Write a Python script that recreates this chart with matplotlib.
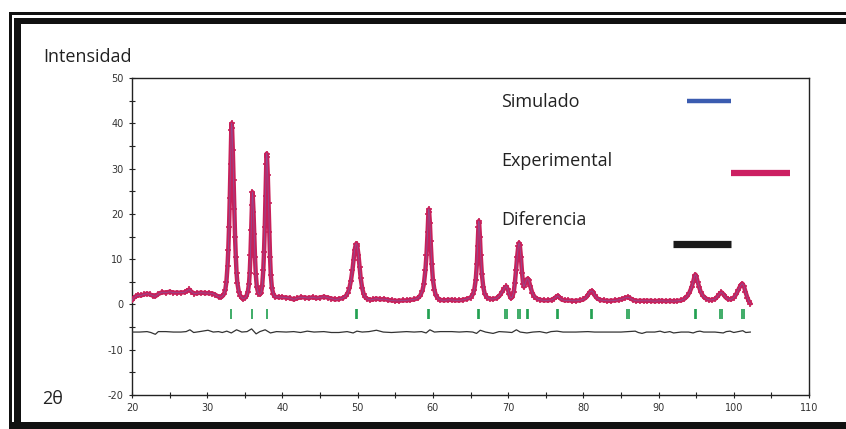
import matplotlib
matplotlib.use('Agg')
import matplotlib.pyplot as plt
from matplotlib.lines import Line2D
from matplotlib.patches import Rectangle

plt.rcParams['axes.unicode_minus'] = False

two_theta = [
    20.0, 20.2, 20.5, 20.8, 21.2, 21.6, 22.0, 22.4, 22.8, 23.1, 23.5, 24.0, 24.5, 25.0,
    25.5, 26.0, 26.5, 27.0, 27.3, 27.6, 27.9, 28.3, 28.7, 29.2, 29.7, 30.2, 30.7, 31.1,
    31.5, 31.8, 32.0, 32.2, 32.4, 32.55, 32.7, 32.8, 32.9, 33.0, 33.1, 33.2, 33.25, 33.3,
    33.4, 33.5, 33.6, 33.7, 33.8, 33.9, 34.0, 34.2, 34.4, 34.6, 34.8, 35.0, 35.2, 35.4,
    35.55, 35.65, 35.75, 35.85, 35.95, 36.0, 36.05, 36.15, 36.25, 36.35, 36.45, 36.6,
    36.8, 37.0, 37.15, 37.3, 37.45, 37.55, 37.65, 37.75, 37.85, 37.9, 37.95, 38.05, 38.15,
    38.25, 38.35, 38.45, 38.6, 38.8, 39.0, 39.5, 40.0, 40.5, 41.0, 41.5, 42.0, 42.5, 43.0,
    43.5, 44.0, 44.5, 45.0, 45.5, 46.0, 46.5, 47.0, 47.5, 48.0, 48.4, 48.7, 48.9, 49.1,
    49.3, 49.45, 49.6, 49.75, 49.85, 49.95, 50.1, 50.25, 50.4, 50.6, 50.8, 51.0, 51.3,
    51.7, 52.0, 52.5, 53.0, 53.5, 54.0, 54.5, 55.0, 55.5, 56.0, 56.5, 57.0, 57.5, 58.0,
    58.3, 58.6, 58.8, 59.0, 59.15, 59.3, 59.4, 59.45, 59.5, 59.6, 59.7, 59.85, 60.0, 60.2,
    60.4, 60.7, 61.0, 61.5, 62.0, 62.5, 63.0, 63.5, 64.0, 64.5, 65.0, 65.3, 65.5, 65.7,
    65.85, 65.95, 66.05, 66.1, 66.15, 66.25, 66.35, 66.5, 66.7, 66.9, 67.2, 67.6, 68.0,
    68.5, 68.9, 69.2, 69.5, 69.75, 69.95, 70.15, 70.35, 70.55, 70.75, 70.9, 71.05, 71.2,
    71.35, 71.45, 71.55, 71.7, 71.85, 72.0, 72.1, 72.25, 72.45, 72.6, 72.75, 72.95, 73.2,
    73.5, 73.9, 74.3, 74.8, 75.3, 75.8, 76.1, 76.4, 76.6, 76.8, 77.1, 77.5, 78.0, 78.5,
    79.0, 79.5, 80.0, 80.4, 80.7, 80.9, 81.1, 81.3, 81.5, 81.8, 82.2, 82.7, 83.2, 83.7,
    84.2, 84.7, 85.2, 85.6, 85.9, 86.2, 86.6, 87.0, 87.5, 88.0, 88.5, 89.0, 89.5, 90.0,
    90.5, 91.0, 91.5, 92.0, 92.5, 93.0, 93.4, 93.8, 94.1, 94.4, 94.6, 94.8, 94.9, 95.0,
    95.2, 95.4, 95.6, 95.9, 96.3, 96.7, 97.1, 97.5, 97.8, 98.1, 98.35, 98.6, 98.9, 99.2,
    99.6, 100.0, 100.3, 100.6, 100.9, 101.15, 101.35, 101.55, 101.8, 102.0, 102.2,
]
intensidad = [
    0.9, 1.4, 1.8, 2.0, 2.0, 2.2, 2.4, 2.2, 1.9, 1.8, 2.3, 2.7, 2.6, 2.8,
    2.6, 2.6, 2.6, 2.7, 3.0, 3.3, 2.8, 2.4, 2.5, 2.6, 2.5, 2.5, 2.4, 2.1,
    1.7, 1.6, 1.8, 2.2, 3.2, 5.0, 8.5, 12.0, 17.0, 23.5, 31.0, 38.5, 40.0, 39.0,
    34.0, 27.5, 21.0, 15.0, 10.5, 7.0, 4.8, 2.8, 1.9, 1.5, 1.3, 1.4, 1.8, 2.8,
    4.5, 7.0, 11.0, 16.5, 22.0, 24.8, 24.0, 20.5, 15.5, 10.5, 6.8, 3.8,
    2.4, 2.2, 2.6, 4.0, 7.5, 11.5, 17.0, 24.0, 31.0, 33.3, 32.5, 28.5, 22.5,
    16.0, 10.5, 6.5, 3.6, 2.2, 1.7, 1.6, 1.6, 1.5, 1.4, 1.1, 1.4, 1.6, 1.5,
    1.4, 1.6, 1.4, 1.5, 1.7, 1.5, 1.3, 1.1, 1.2, 1.4, 1.8, 2.6, 3.6, 5.2,
    7.5, 9.8, 12.0, 13.3, 13.4, 12.8, 11.0, 8.3, 5.8, 3.6, 2.3, 1.6, 1.2,
    1.0, 1.1, 1.3, 1.1, 1.2, 1.0, 0.9, 0.8, 0.8, 0.9, 0.9, 1.0, 1.1, 1.4,
    1.9, 3.0, 4.5, 7.5, 11.0, 16.0, 20.0, 21.0, 20.5, 18.0, 14.0, 9.0, 5.5, 3.2,
    2.0, 1.3, 1.0, 0.9, 1.0, 1.0, 0.9, 0.9, 1.0, 1.2, 1.5, 2.2, 3.2, 5.5,
    9.0, 13.0, 17.0, 18.4, 18.0, 15.0, 11.0, 6.8, 3.8, 2.3, 1.5, 1.2, 1.2,
    1.4, 2.0, 2.8, 3.6, 4.0, 3.4, 2.2, 1.4, 1.6, 2.8, 4.8, 7.5, 10.5,
    12.8, 13.6, 13.2, 10.5, 7.0, 4.5, 3.9, 4.5, 5.5, 5.7, 5.3, 4.0, 2.6,
    1.7, 1.2, 1.0, 0.9, 0.9, 1.0, 1.3, 1.7, 1.9, 1.6, 1.1, 0.9, 0.9, 0.8,
    0.8, 0.9, 1.1, 1.6, 2.3, 2.8, 3.0, 2.7, 2.0, 1.4, 1.0, 0.9, 0.8, 0.8,
    0.9, 1.0, 1.2, 1.5, 1.6, 1.4, 1.0, 0.8, 0.8, 0.8, 0.8, 0.8, 0.7, 0.8,
    0.8, 0.7, 0.8, 0.7, 0.8, 0.9, 1.2, 1.8, 2.6, 3.8, 5.0, 6.3, 6.6, 6.3,
    5.0, 3.8, 2.8, 1.9, 1.3, 1.0, 1.0, 1.2, 1.7, 2.3, 2.7, 2.3, 1.6, 1.2,
    1.1, 1.5, 2.2, 3.2, 4.2, 4.6, 4.0, 2.8, 1.5, 0.7, 0.2,
]

# Curva diferencia (desplazada por debajo del cero)
dif_theta = [
    20.0, 21.0, 22.0, 22.5, 23.1, 23.5, 24.5, 25.5, 26.5, 27.2, 27.7, 28.2, 29.0, 30.1,
    30.8, 31.5, 32.0, 32.6, 33.2, 33.9, 34.6, 35.3, 35.9, 36.5, 37.0, 37.7, 38.4, 39.2,
    40.5, 41.5, 42.4, 43.3, 44.2, 45.5, 46.5, 47.5, 48.6, 49.4, 49.9, 50.6, 51.5, 52.5,
    53.4, 54.5, 55.5, 56.5, 57.5, 58.5, 59.1, 59.6, 60.2, 61.0, 62.5, 63.5, 64.5, 65.3,
    65.8, 66.3, 67.0, 68.0, 68.8, 69.8, 70.5, 71.1, 71.6, 72.5, 73.3, 74.2, 75.1, 75.7,
    76.5, 77.3, 79.0, 80.6, 81.5, 83.0, 85.0, 86.9, 87.3, 87.8, 88.4, 89.5, 90.2, 90.8,
    91.5, 92.0, 93.0, 94.0, 94.6, 95.1, 95.5, 96.0, 97.5, 98.6, 99.0, 99.5, 100.0, 100.6,
    101.2, 101.6, 102.2,
]
diferencia = [
    -6.1, -6.1, -6.0, -6.2, -6.6, -6.0, -6.0, -6.1, -6.1, -6.0, -5.6, -6.2, -6.0, -5.7,
    -6.1, -6.0, -6.2, -5.9, -6.3, -5.6, -6.1, -6.0, -5.4, -6.5, -6.0, -5.6, -6.3, -6.0,
    -6.1, -6.0, -6.2, -5.9, -6.1, -6.0, -6.2, -6.2, -6.0, -6.3, -5.9, -6.1, -6.0, -5.7,
    -6.1, -6.2, -6.1, -6.0, -6.1, -6.0, -6.3, -5.6, -6.1, -6.0, -6.0, -6.1, -6.0, -6.1,
    -6.4, -5.7, -6.1, -6.4, -6.0, -6.1, -6.2, -5.6, -6.1, -6.3, -6.1, -6.0, -6.3, -6.0,
    -5.9, -6.1, -6.1, -6.0, -6.1, -6.1, -6.1, -5.9, -6.2, -6.4, -6.1, -6.1, -5.9, -6.2,
    -6.0, -6.3, -6.1, -6.1, -6.3, -6.0, -5.9, -6.1, -6.1, -6.3, -6.0, -5.9, -6.2, -6.0,
    -5.8, -6.2, -6.1,
]

# Posiciones de Bragg (marcas verdes)
bragg = [33.2, 36.0, 37.9, 49.75, 49.9, 59.4, 59.5, 66.0, 66.15, 69.65, 69.85,
         71.35, 71.6, 72.5, 72.7, 76.5, 76.65, 81.05, 81.2, 85.85, 86.05,
         94.8, 95.0, 98.15, 98.5, 101.05, 101.3]

W, H = 846, 429
fig = plt.figure(figsize=(W / 100, H / 100), dpi=100)


def fx(px):
    return px / W


def fy(py):
    return 1 - py / H


# marco doble del recuadro
def barra(x0, y0, x1, y1):
    fig.add_artist(Rectangle((fx(x0), fy(y1)), fx(x1) - fx(x0), fy(y0) - fy(y1),
                             transform=fig.transFigure, color='#111111', lw=0))


barra(9, 12, W, 15)
barra(14, 18, W, 24)
barra(9, 12, 12, H)
barra(14, 18, 20.5, H)
barra(9, 421.5, W, H)

ax = fig.add_axes([fx(132), fy(395), fx(809) - fx(132), fy(78) - fy(395)])

ax.plot(two_theta, intensidad, color='#3b5cb0', lw=0.8, zorder=2)
ax.plot(two_theta, intensidad, color='#c8205a', lw=3.2, zorder=3, solid_capstyle='round')
ax.plot(two_theta, intensidad, ls='none', marker='+', ms=5, mew=1.2, color='#c8205a', zorder=4)
ax.plot(two_theta, intensidad, color='#5a78c8', lw=0.6, alpha=0.5, zorder=5)
ax.vlines(bragg, -3.2, -0.95, color='#1e9e4e', lw=1.2, zorder=3)
ax.plot(dif_theta, diferencia, color='#333333', lw=0.9, zorder=3)

ax.set_xlim(20, 110)
ax.set_ylim(-20, 50)
ax.set_xticks(range(20, 111, 10))
ax.set_xticks(range(25, 110, 10), minor=True)
ax.set_yticks(range(-20, 51, 10))
ax.set_yticks(range(-15, 50, 10), minor=True)
for s in ax.spines.values():
    s.set_color('#222222')
    s.set_linewidth(1.0)
ax.tick_params(which='both', direction='inout', length=5, width=0.8, color='#222222',
               labelsize=7, labelcolor='#333333')
for lab in ax.get_xticklabels() + ax.get_yticklabels():
    lab.set_family(['Liberation Sans Narrow', 'DejaVu Sans'])

# textos de la leyenda y sus trazos
fuente = ['Open Sans', 'DejaVu Sans']
fig.text(fx(501), fy(102), 'Simulado', fontsize=13, family=fuente, color='#222222', va='center')
fig.text(fx(501), fy(161), 'Experimental', fontsize=13, family=fuente, color='#222222', va='center')
fig.text(fx(501), fy(220), 'Diferencia', fontsize=13, family=fuente, color='#222222', va='center')
fig.add_artist(Line2D([fx(687), fx(731)], [fy(100.5), fy(100.5)], transform=fig.transFigure,
                      color='#3b5cb0', lw=3.2, solid_capstyle='butt'))
fig.add_artist(Line2D([fx(731), fx(790)], [fy(172.5), fy(172.5)], transform=fig.transFigure,
                      color='#cc1f62', lw=4.5, solid_capstyle='butt'))
fig.add_artist(Line2D([fx(673), fx(731)], [fy(244), fy(244)], transform=fig.transFigure,
                      color='#1a1a1a', lw=5.2, solid_capstyle='butt'))

fig.text(fx(43), fy(57), 'Intensidad', fontsize=13, family=fuente, color='#222222', va='center')
fig.text(fx(42), fy(399), '2θ', fontsize=13, family=fuente, color='#222222', va='center')

fig.savefig('out.png', dpi=100)
